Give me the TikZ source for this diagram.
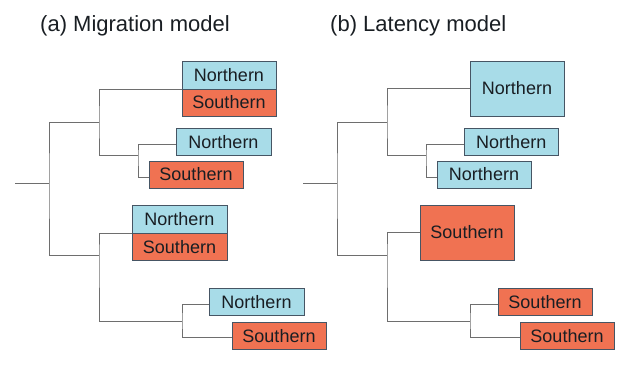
\documentclass[tikz,border=0pt]{standalone}
\usepackage{fontspec}
\setmainfont{Liberation Sans}
\definecolor{nblue}{RGB}{168,220,232}
\definecolor{sred}{RGB}{240,114,82}
\definecolor{bord}{RGB}{70,85,100}
\definecolor{lin}{RGB}{110,110,110}
\definecolor{txt}{RGB}{25,30,35}
\begin{document}
\begin{tikzpicture}[x=1pt,y=-1pt,
  box/.style={draw=bord, line width=1pt, inner sep=0pt, outer sep=0pt, anchor=north west,
    font=\fontsize{18}{20}\selectfont, text=txt},
  sz/.style 2 args={minimum width=#1pt, minimum height=#2pt},
  nb/.style={box, fill=nblue},
  sb/.style={box, fill=sred},
  br/.style={draw=lin, line width=1pt},
  ttl/.style={font=\fontsize{22}{24}\selectfont, anchor=base west, inner sep=0pt, text=txt}]
\useasboundingbox (0,0) rectangle (642,378);

% titles
\node[ttl] (ta) at (40,31.5) {(a) Migration model};
\node[ttl] (tb) at (330,31.5) {(b) Latency model};

% ---------- panel (a) ----------
\node[nb, sz={94}{28}] (a1n) at (182,61) {Northern};
\node[sb, sz={94}{27}] (a1s) at (182,89) {Southern};
\node[nb, sz={95}{27.5}] (a2n) at (176,128) {Northern};
\node[sb, sz={94}{27}] (a2s) at (149,161) {Southern};
\node[nb, sz={95}{28}] (a3n) at (132,205) {Northern};
\node[sb, sz={95}{27.5}] (a3s) at (132,233) {Southern};
\node[nb, sz={95}{27.5}] (a4n) at (209,288) {Northern};
\node[sb, sz={94}{27.5}] (a4s) at (232,322) {Southern};

\coordinate (ra) at (15,183);
\coordinate (ja1) at (49,183);
\coordinate (ja2) at (99,122);
\coordinate (ja3) at (138,155);
\coordinate (ja4) at (99,255);
\coordinate (ja5) at (182,321);

\draw[br] (ra) -- (ja1);
\draw[br] (ja2) -| (ja1) |- (ja4);
\draw[br] (a1n.south west) -| (ja2) |- (ja3);
\draw[br] ([yshift=-2.5pt]a2n.west) -| (ja3) |- ([yshift=-2.5pt]a2s.west);
\draw[br] (a3n.south west) -| (ja4) |- (ja5);
\draw[br] ([yshift=-3pt]a4n.west) -| (ja5) |- ([yshift=-2pt]a4s.west);

% ---------- panel (b) ----------
\node[nb, sz={94}{55}] (b1) at (470,61) {Northern};
\node[nb, sz={94.5}{27.5}] (b2n) at (464,128) {Northern};
\node[nb, sz={94}{27}] (b2s) at (437,161) {Northern};
\node[sb, sz={94}{55}] (b3) at (420,205) {Southern};
\node[sb, sz={94}{27.5}] (b4a) at (498,288) {Southern};
\node[sb, sz={94}{27.5}] (b4b) at (520,322) {Southern};

\coordinate (rb) at (303,183);
\coordinate (jb1) at (337,183);
\coordinate (jb2) at (387,122);
\coordinate (jb3) at (426,155);
\coordinate (jb4) at (387,255);
\coordinate (jb5) at (470,321);

\draw[br] (rb) -- (jb1);
\draw[br] (jb2) -| (jb1) |- (jb4);
\draw[br] (b1.west) -| (jb2) |- (jb3);
\draw[br] ([yshift=-2.5pt]b2n.west) -| (jb3) |- ([yshift=-2.5pt]b2s.west);
\draw[br] (b3.west) -| (jb4) |- (jb5);
\draw[br] ([yshift=-3pt]b4a.west) -| (jb5) |- ([yshift=-2pt]b4b.west);
\end{tikzpicture}
\end{document}
